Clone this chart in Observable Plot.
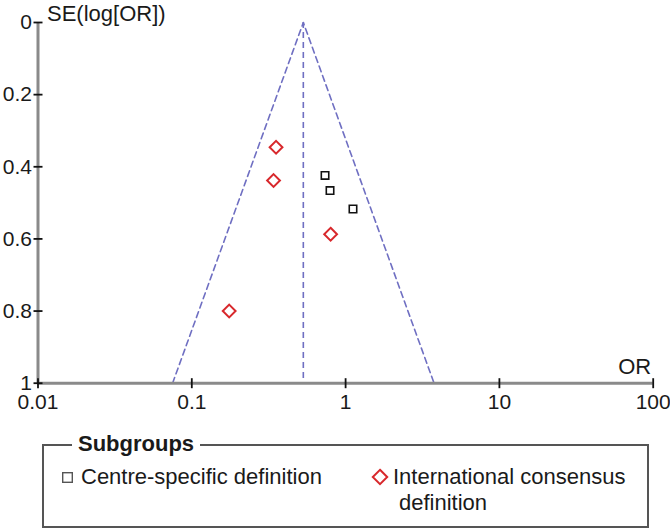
<!DOCTYPE html>
<html><head><meta charset="utf-8">
<script src="https://cdn.jsdelivr.net/npm/d3@7"></script>
<script src="https://cdn.jsdelivr.net/npm/@observablehq/plot@0.6"></script>
<style>
html,body{margin:0;padding:0;background:#fff;}
#wrap{position:relative;width:670px;height:530px;overflow:hidden;font-family:"Liberation Sans",Arial,Helvetica,sans-serif;color:#1a1a1a;}
#chart{position:absolute;left:0;top:0;}
.lg{position:absolute;white-space:nowrap;font-size:22px;line-height:26px;}
#box{position:absolute;left:42px;top:444px;width:603px;height:80px;border:2px solid #555;}
#title{font-weight:bold;background:#fff;padding:0 6px;}
svg.sym{position:absolute;overflow:visible;}
</style></head>
<body><div id="wrap"><div id="chart"></div><div id="legend"></div></div>
<script>
// ---- data ----
const xTickValues = [0.01, 0.1, 1, 10, 100];
const xTickLabels = ["0.01", "0.1", "1", "10", "100"];
const yTickValues = [0, 0.2, 0.4, 0.6, 0.8, 1];
const yTickLabels = ["0", "0.2", "0.4", "0.6", "0.8", "1"];
const xTitle = "OR";
const yTitle = "SE(log[OR])";
const legendTitle = "Subgroups";
const seriesNames = ["Centre-specific definition", "International consensus definition"];
const centreOR = [0.735, 0.792, 1.117];
const centreSE = [0.424, 0.466, 0.517];
const intlOR = [0.353, 0.340, 0.799, 0.175];
const intlSE = [0.346, 0.438, 0.587, 0.800];
const funnelOR = [0.075, 0.531, 3.76];
const funnelSE = [1, 0, 1];
const pooledOR = 0.531;
const seRange = [0, 1];

// ---- symbols ----
const vTick = {draw(ctx, size){const r = Math.sqrt(size/Math.PI); ctx.moveTo(0,-r); ctx.lineTo(0,r);}};
const hTick = {draw(ctx, size){const r = Math.sqrt(size/Math.PI); ctx.moveTo(-r,0); ctx.lineTo(r,0);}};
const diamond = {draw(ctx, size){const r = Math.sqrt(size/Math.PI); ctx.moveTo(0,-r); ctx.lineTo(r,0); ctx.lineTo(0,r); ctx.lineTo(-r,0); ctx.closePath();}};

const funnel = funnelOR.map((v,i) => ({or: v, se: funnelSE[i]}));
const centre = centreOR.map((v,i) => ({or: v, se: centreSE[i]}));
const intl = intlOR.map((v,i) => ({or: v, se: intlSE[i]}));

const dashColor = "#6f6fc2";
const axisGray = "#8a8a8a";
const red = "#d8282c";

const plot = Plot.plot({
  width: 670, height: 425,
  marginLeft: 37.5, marginRight: 17.3, marginTop: 22, marginBottom: 42.3,
  style: {fontFamily: '"Liberation Sans", Arial, Helvetica, sans-serif', fontSize: "21px", color: "#1a1a1a", background: "transparent", overflow: "visible"},
  x: {type: "log", domain: [xTickValues[0], xTickValues[xTickValues.length-1]], label: null},
  y: {domain: seRange, reverse: true, label: null},
  marks: [
    Plot.line(funnel, {x: "or", y: "se", stroke: dashColor, strokeWidth: 1.6, strokeDasharray: "6,4"}),
    Plot.ruleX([pooledOR], {y1: seRange[0], y2: seRange[1], stroke: dashColor, strokeWidth: 1.6, strokeDasharray: "6,4"}),
    Plot.ruleY([seRange[1]], {stroke: axisGray, strokeWidth: 3}),
    Plot.ruleX([xTickValues[0]], {stroke: axisGray, strokeWidth: 3}),
    Plot.dot(xTickValues, {x: d => d, y: () => seRange[1], symbol: vTick, r: 5, stroke: "#111", strokeWidth: 1.8, fill: "none"}),
    Plot.dot(yTickValues, {x: () => xTickValues[0], y: d => d, symbol: hTick, r: 4.5, stroke: "#111", strokeWidth: 1.8, fill: "none"}),
    Plot.axisX(xTickValues, {tickSize: 0, tickPadding: 11, tickFormat: d => xTickLabels[xTickValues.indexOf(d)]}),
    Plot.axisY(yTickValues, {tickSize: 0, tickPadding: 6, tickFormat: d => yTickLabels[yTickValues.indexOf(d)]}),
    Plot.text([yTitle], {x: () => xTickValues[0], y: () => seRange[0], text: d => d, textAnchor: "start", dx: 9, dy: -9, fontSize: 22}),
    Plot.text([xTitle], {x: () => xTickValues[xTickValues.length-1], y: () => seRange[1], text: d => d, textAnchor: "end", dx: -2, dy: -16, fontSize: 22}),
    Plot.dot(centre, {x: "or", y: "se", symbol: "square", r: 4.2, stroke: "#111", strokeWidth: 1.6, fill: "white"}),
    Plot.dot(intl, {x: "or", y: "se", symbol: diamond, r: 6.4, stroke: red, strokeWidth: 2, fill: "white"})
  ]
});
document.getElementById("chart").appendChild(plot);

// ---- legend (below the chart) ----
const lg = document.getElementById("legend");
const words = seriesNames[1].split(" ");
lg.innerHTML = `
<div id="box"></div>
<div class="lg" id="title" style="left:72px;top:431px;">${legendTitle}</div>
<svg class="sym" style="left:62px;top:471.5px;" width="11" height="11"><rect x="0.7" y="0.7" width="9.6" height="9.6" fill="white" stroke="#555" stroke-width="1.4"/></svg>
<div class="lg" style="left:81px;top:464px;">${seriesNames[0]}</div>
<svg class="sym" style="left:372px;top:469px;" width="16" height="16"><polygon points="8,0.8 15.2,8 8,15.2 0.8,8" fill="white" stroke="${red}" stroke-width="2"/></svg>
<div class="lg" style="left:393px;top:464px;">${words.slice(0,2).join(" ")}</div>
<div class="lg" style="left:399px;top:490px;">${words.slice(2).join(" ")}</div>
`;
</script>
</body></html>
